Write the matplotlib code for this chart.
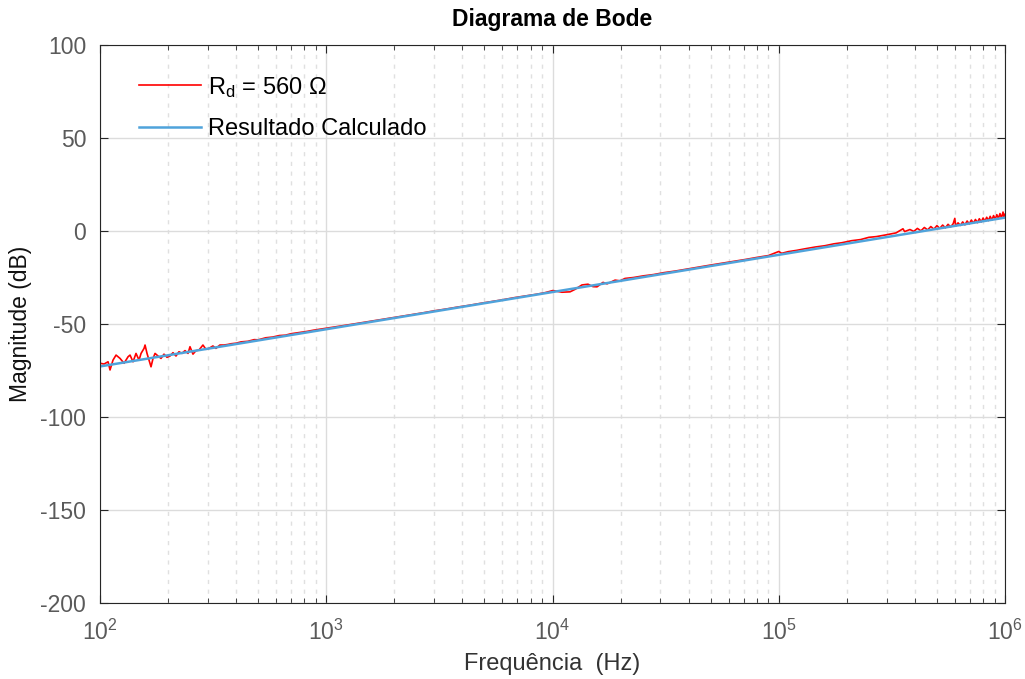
import matplotlib
matplotlib.use("Agg")
import matplotlib.pyplot as plt

plt.rcParams['font.family'] = ['Liberation Sans', 'DejaVu Sans']
plt.rcParams['mathtext.fontset'] = 'custom'
plt.rcParams['mathtext.rm'] = 'Liberation Sans'
plt.rcParams['mathtext.it'] = 'Liberation Sans:italic'
plt.rcParams['axes.unicode_minus'] = False

# ==========================================
# Data
# ==========================================
# measured response (red)
freq_meas = [
    100, 104.2, 108.5, 110.7, 114.1, 117.7, 122.6, 127.7, 133.0, 135.7,
    139.9, 144.2, 148.7, 151.8, 156.5, 158.1, 161.3, 164.6, 168.0, 171.5,
    175.0, 180.4, 186.0, 191.7, 197.7, 203.8, 210.1, 216.6, 223.3, 230.3,
    237.4, 244.8, 249.8, 257.5, 265.5, 273.7, 285.0, 293.8, 302.9, 315.4,
    325.2, 338.6, 352.5, 367.0, 380, 400, 420, 450, 480, 500,
    540, 580, 620, 660, 700, 760, 820, 880, 950, 1000,
    1100, 1200, 1350, 1500, 1700, 1900, 2150, 2400, 2700, 3000,
    3400, 3800, 4300, 4800, 5400, 6000, 6800, 7600, 8500, 9300,
    10040, 11010, 11950, 12560, 13490, 14350, 15100, 15730, 16720, 17420,
    18900, 19890, 20900, 22800, 25240, 28000, 31000, 35000, 40000, 45000,
    50000, 57000, 64000, 72000, 80000, 90000, 100000, 103000, 110000, 120000,
    130000, 145000, 160000, 175000, 190000, 210000, 230000, 250000, 270000, 300000,
    330000, 354000, 360000, 380000, 395000, 410000, 425000, 440000, 455000, 470000,
    485000, 500000, 515000, 530000, 545000, 560000, 575000, 590000, 600000, 605000,
    620000, 635000, 650000, 665000, 680000, 695000, 710000, 725000, 740000, 755000,
    770000, 785000, 800000, 815000, 830000, 845000, 860000, 875000, 890000, 905000,
    920000, 935000, 950000, 965000, 980000, 990000, 1000000,
]
mag_meas = [
    -71.1, -71.5, -70.3, -74.7, -69.4, -66.7, -68.5, -71.1, -67.6, -66.7,
    -70.3, -65.8, -69.4, -65.8, -63.1, -61.3, -65.8, -69.4, -73.0, -68.5,
    -65.8, -67.2, -68.5, -66.2, -67.9, -67.2, -65.4, -67.2, -64.9, -65.8,
    -64.3, -65.8, -62.2, -66.2, -64.3, -64.0, -61.3, -63.6, -63.1, -61.8,
    -63.1, -61.3, -61.3, -61.0, -60.6, -60.3, -59.6, -59.3, -58.4, -58.5,
    -57.4, -57.0, -56.2, -56.0, -55.2, -54.6, -54.0, -53.3, -52.7, -52.3,
    -51.5, -50.8, -49.8, -48.9, -47.8, -46.9, -45.8, -44.9, -43.9, -42.9,
    -41.9, -40.9, -39.9, -38.9, -37.9, -37.0, -35.8, -34.9, -34.0, -33.1,
    -32.0, -32.9, -32.7, -31.4, -29.0, -28.6, -29.9, -30.0, -27.6, -28.4,
    -26.4, -26.8, -25.5, -25.0, -24.1, -23.4, -22.4, -21.5, -20.3, -19.3,
    -18.3, -17.2, -16.2, -15.2, -14.2, -13.2, -11.0, -12.0, -11.1, -10.4,
    -9.6, -8.6, -7.9, -6.9, -6.3, -5.2, -4.6, -3.4, -3.0, -2.0,
    -1.0, 1.2, -0.3, 0.8, -0.2, 1.4, 0.1, 1.9, 0.6, 2.4,
    1.0, 2.9, 1.4, 3.2, 1.7, 3.6, 2.2, 3.9, 6.8, 2.6,
    4.4, 3.0, 4.9, 3.3, 5.4, 3.8, 5.9, 4.2, 6.2, 4.5,
    6.6, 4.9, 7.0, 5.3, 7.4, 5.6, 7.9, 5.9, 8.3, 6.3,
    8.8, 6.7, 9.4, 7.0, 10.2, 7.5, 9.0,
]

# calculated response (blue)
freq_calc = [100, 1000, 10000, 100000, 1000000]
mag_calc = [-72.8, -52.8, -32.8, -12.8, 7.2]

# ==========================================
# Plot
# ==========================================
fig = plt.figure(figsize=(10.25, 6.79), dpi=100)
ax = fig.add_axes([0.0976, 0.1119, 0.8829, 0.8218])

ax.semilogx(freq_meas, mag_meas, color='#ff0000', linewidth=1.2,
            label=r'R$_\mathrm{d}$ = 560 $\Omega$')
ax.semilogx(freq_calc, mag_calc, color='#4fa3db', linewidth=1.8,
            label='Resultado Calculado')

ax.set_xlim(1e2, 1e6)
ax.set_ylim(-200, 100)
ax.set_yticks([-200, -150, -100, -50, 0, 50, 100])

ax.grid(True, which='major', color='#dcdcdc', linestyle='-', linewidth=1.0)
ax.grid(True, which='minor', axis='x', color='#e0e0e0', linestyle=(0, (3, 4)), linewidth=1.0)
ax.set_axisbelow(True)

ax.tick_params(which='both', direction='in', top=True, right=True,
               colors='#262626', labelcolor='#5a5a5a', labelsize=16.5)
ax.tick_params(which='major', length=6, width=0.8)
ax.tick_params(which='minor', length=3.5, width=0.6)
ax.tick_params(axis='x', pad=12)
ax.tick_params(axis='y', pad=10)
for s in ax.spines.values():
    s.set_color('#262626')
    s.set_linewidth(0.8)

ax.set_title('Diagrama de Bode', fontsize=16.5, fontweight='bold', pad=14)
ax.set_xlabel('Frequência  (Hz)', fontsize=17, color='#333333', labelpad=6)
ax.set_ylabel('Magnitude (dB)', fontsize=16.5, color='#111111', labelpad=6)

ax.legend(loc='upper left', frameon=False, fontsize=17, handlelength=2.6,
          handletextpad=0.3, labelspacing=0.8, bbox_to_anchor=(0.02, 0.985))

fig.savefig('out.png', dpi=100)
